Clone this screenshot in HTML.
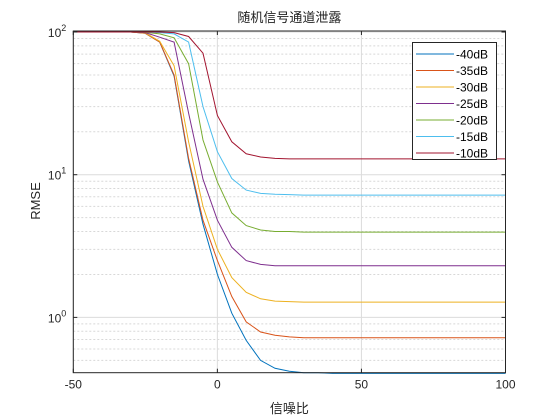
<!DOCTYPE html>
<html><head><meta charset="utf-8"><style>
body{margin:0;background:#fff;}
svg{display:block;font-family:"Liberation Sans","Noto Sans CJK SC",sans-serif;}
</style></head><body>
<svg id="chart" width="560" height="420" viewBox="0 0 560 420"></svg>
<script>
const snr = [-50,-45,-40,-35,-30,-25,-20,-15,-10,-5,0,5,10,15,20,25,30,35,40,45,50,55,60,65,70,75,80,85,90,95,100];
const seriesNames = ["-40dB","-35dB","-30dB","-25dB","-20dB","-15dB","-10dB"];
const colors = ["#0072BD","#D95319","#EDB120","#7E2F8E","#77AC30","#4DBEEE","#A2142F"];
const s40 = [100,100,100,100,100,98,85,49,12.5,4.5,2.0,1.07,0.69,0.50,0.44,0.42,0.41,0.41,0.405,0.405,0.405,0.405,0.405,0.405,0.405,0.405,0.405,0.405,0.405,0.405,0.405];
const s35 = [100,100,100,100,100,98,85,50,13,4.8,2.5,1.4,0.93,0.79,0.75,0.73,0.72,0.72,0.72,0.72,0.72,0.72,0.72,0.72,0.72,0.72,0.72,0.72,0.72,0.72,0.72];
const s30 = [100,100,100,100,100,98.5,86,58,17,6,3,1.9,1.5,1.35,1.3,1.29,1.28,1.28,1.28,1.28,1.28,1.28,1.28,1.28,1.28,1.28,1.28,1.28,1.28,1.28,1.28];
const s25 = [100,100,100,100,100,99,92,85,27,9.3,4.8,3.1,2.5,2.35,2.3,2.3,2.3,2.3,2.3,2.3,2.3,2.3,2.3,2.3,2.3,2.3,2.3,2.3,2.3,2.3,2.3];
const s20 = [100,100,100,100,100,99.5,97,91,60,17.5,8.9,5.4,4.4,4.1,4.0,4.0,3.96,3.96,3.96,3.96,3.96,3.96,3.96,3.96,3.96,3.96,3.96,3.96,3.96,3.96,3.96];
const s15 = [100,100,100,100,100,100,99,97,85,30,14.5,9.4,7.8,7.4,7.3,7.25,7.2,7.2,7.2,7.2,7.2,7.2,7.2,7.2,7.2,7.2,7.2,7.2,7.2,7.2,7.2];
const s10 = [100,100,100,100,100,100,100,99,93,71,26,17,14,13.3,13.0,12.9,12.9,12.9,12.9,12.9,12.9,12.9,12.9,12.9,12.9,12.9,12.9,12.9,12.9,12.9,12.9];
const allSeries = [s40,s35,s30,s25,s20,s15,s10];
const xTicks = [-50,0,50,100];
const yTicks = [0,1,2];

const L=73.3,R=505.5,T=31,B=372.7;
const Y100=32, DEC=142.7;
function xs(v){return L+(v+50)/150*(R-L);}
function ys(v){return Y100+(2-Math.log10(v))*DEC;}
const NS="http://www.w3.org/2000/svg";
const svg=document.getElementById('chart');
function mk(tag,attrs,parent){const e=document.createElementNS(NS,tag);for(const k in attrs)e.setAttribute(k,attrs[k]);(parent||svg).appendChild(e);return e;}

const gMinor=mk('g',{});


for(const d of [-1,0,1]){for(let m=2;m<=9;m++){const v=m*Math.pow(10,d);const y=ys(v);if(y<T||y>B)continue;
mk('line',{x1:L,x2:R,y1:y,y2:y,stroke:'#d8d8d8','stroke-width':1,'stroke-dasharray':'2,2'},gMinor);}}
const gMajor=mk('g',{});


for(const t of xTicks){mk('line',{x1:xs(t),x2:xs(t),y1:T,y2:B,stroke:'#dcdcdc','stroke-width':1},gMajor);}
for(const t of yTicks){const y=ys(Math.pow(10,t));mk('line',{x1:L,x2:R,y1:y,y2:y,stroke:'#dcdcdc','stroke-width':1},gMajor);}

allSeries.forEach((s,i)=>{
  const pts=s.map((v,j)=>xs(snr[j]).toFixed(1)+','+ys(v).toFixed(1)).join(' ');
  const p=mk('polyline',{points:pts,fill:'none',stroke:colors[i],'stroke-width':1});
  
  
});

const box=mk('rect',{x:L,y:T,width:R-L,height:B-T,fill:'none',stroke:'#262626','stroke-width':1});



for(const t of xTicks){
  const x=xs(t);
  mk('line',{x1:x,x2:x,y1:B,y2:B-4,stroke:'#262626'});
  mk('line',{x1:x,x2:x,y1:T,y2:T+4,stroke:'#262626'});
  const tx=mk('text',{x:x,y:B+16,'text-anchor':'middle','font-size':12,fill:'#262626'});
  tx.textContent=t;
  
  
}
for(const t of yTicks){
  const y=ys(Math.pow(10,t));
  mk('line',{x1:L,x2:L+4,y1:y,y2:y,stroke:'#262626'});
  mk('line',{x1:R,x2:R-4,y1:y,y2:y,stroke:'#262626'});
  const tx=mk('text',{x:L-7,y:y+5,'text-anchor':'end','font-size':12,fill:'#262626'});
  
  
  const a=document.createElementNS(NS,'tspan');a.textContent='10';tx.appendChild(a);
  const b=document.createElementNS(NS,'tspan');b.setAttribute('dy','-6');b.setAttribute('font-size','9');b.textContent=t;tx.appendChild(b);
}

const title=mk('text',{x:(L+R)/2,y:22,'text-anchor':'middle','font-size':13,fill:'#222'});
title.textContent='随机信号通道泄露';


const xl=mk('text',{x:(L+R)/2,y:413,'text-anchor':'middle','font-size':13,fill:'#262626'});
xl.textContent='信噪比';


const yl=mk('text',{x:0,y:0,'text-anchor':'middle','font-size':13,fill:'#262626',transform:'translate(40,201) rotate(-90)'});
yl.textContent='RMSE';



const lg=mk('g',{});


mk('rect',{x:412.5,y:42.5,width:84,height:117,fill:'#fff',stroke:'#262626','stroke-width':1},lg);
seriesNames.forEach((n,i)=>{
  const y=54+i*16.5;
  const e=mk('g',{},lg);
  
  
  mk('line',{x1:416,x2:454,y1:y,y2:y,stroke:colors[i],'stroke-width':1},e);
  const t=mk('text',{x:456,y:y+4.5,'font-size':12,fill:'#000'},e);
  t.textContent=n;
});
</script>
</body></html>
